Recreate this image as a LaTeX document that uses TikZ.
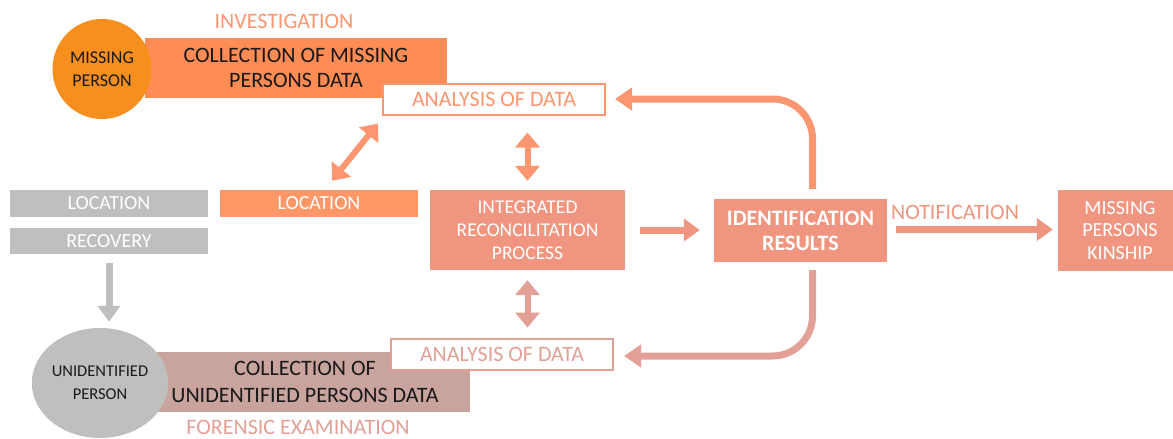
\documentclass[tikz,border=0pt]{standalone}
\usepackage{fontspec}
\setmainfont{Carlito}
\usetikzlibrary{arrows.meta,shapes.geometric}

\definecolor{mporange}{RGB}{247,143,30}
\definecolor{barorange}{RGB}{255,140,85}
\definecolor{lightorange}{RGB}{252,150,112}
\definecolor{salmon}{RGB}{240,150,128}
\definecolor{rosy}{RGB}{226,160,150}
\definecolor{rosybar}{RGB}{201,163,157}
\definecolor{greybox}{RGB}{191,191,191}

\begin{document}
\begin{tikzpicture}[x=1pt,y=-1pt,
    box/.style={rectangle,inner sep=0pt,align=center,text=white,
      font=\fontsize{20}{23}\selectfont},
    bar/.style={rectangle,inner sep=0pt,align=center,text=black!90,
      font=\fontsize{22}{25}\selectfont},
    person/.style={ellipse,inner sep=0pt,align=center,text=black!90,
      font=\fontsize{18}{23}\selectfont},
    framebox/.style={rectangle,draw,line width=2pt,fill=white,inner sep=0pt,
      minimum width=222pt,minimum height=31pt,font=\fontsize{22}{23}\selectfont},
    caption/.style={inner sep=1pt,font=\fontsize{22}{23}\selectfont},
    blockarrow/.style={line width=7pt,-{Triangle[width=22pt,length=16pt]}},
    dblarrow/.style={line width=6pt,{Triangle[width=24pt,length=15pt]}-{Triangle[width=24pt,length=15pt]}},
    looparrow/.style={line width=7pt,rounded corners=40pt,-{Triangle[width=22pt,length=17pt]}}]

    \useasboundingbox (0,0) rectangle (1173,439);
    \clip (0,0) rectangle (1173,439);

    % Missing persons side
    \node[bar,fill=barorange,minimum width=302pt,minimum height=60pt] (mpbar) at (296,68)
        {COLLECTION OF MISSING\\PERSONS DATA};
    \node[person,fill=mporange,minimum width=99pt,minimum height=100pt] (mp) at (102,69)
        {MISSING\\PERSON};
    \node[caption,text=lightorange] (inv) at (284,21) {INVESTIGATION};
    \node[framebox,draw=lightorange,text=lightorange] (anatop) at (494,99) {ANALYSIS OF DATA};

    % Location / recovery
    \node[box,fill=greybox,minimum width=198pt,minimum height=27pt] (locgr) at (109,203.5) {LOCATION};
    \node[box,fill=greybox,minimum width=198pt,minimum height=26pt] (recgr) at (109,241) {RECOVERY};
    \node[box,fill=barorange!90!white,minimum width=198pt,minimum height=27pt] (locor) at (319,203.5) {LOCATION};

    % Reconciliation and results
    \node[box,fill=salmon,minimum width=195pt,minimum height=80pt,
        font=\fontsize{19.5}{23}\selectfont] (irp) at (527.5,230)
        {INTEGRATED\\RECONCILITATION\\PROCESS};
    \node[box,fill=salmon,minimum width=173pt,minimum height=63pt,
        font=\fontsize{22}{25}\selectfont\bfseries] (idres) at (800.5,230.5)
        {IDENTIFICATION\\RESULTS};
    \node[box,fill=salmon,minimum width=124pt,minimum height=81pt,
        font=\fontsize{20}{22.5}\selectfont] (kin) at (1120,230.5)
        {MISSING\\PERSONS\\KINSHIP};
    \node[caption,text=salmon] (notif) at (955,212) {NOTIFICATION};

    % Unidentified persons side
    \node[bar,fill=rosybar,minimum width=330pt,minimum height=60pt,
        font=\fontsize{22}{27}\selectfont] (upbar) at (305,382)
        {COLLECTION OF\\UNIDENTIFIED PERSONS DATA};
    \node[person,fill=greybox,minimum width=100pt,minimum height=110pt,
        font=\fontsize{16.5}{23}\selectfont] (up) at (100,383)
        {UNIDENTIFIED\\PERSON};
    \node[framebox,draw=rosy,text=rosy] (anabot) at (502,354) {ANALYSIS OF DATA};
    \node[caption,text=rosy] (foren) at (298,427) {FORENSIC EXAMINATION};

    % Arrows
    \draw[dblarrow,lightorange] ([xshift=13pt,yshift=9pt]locor.north) -- ([xshift=-4pt,yshift=-8pt]anatop.south west);
    \draw[dblarrow,lightorange,shorten <=17pt,shorten >=9pt] (irp.north |- anatop.south) -- (irp.north);
    \draw[dblarrow,rosy,shorten <=10pt,shorten >=10pt] (irp.south) -- (irp.south |- anabot.north);
    \draw[blockarrow,greybox,shorten <=9pt,shorten >=6pt] (recgr.south) -- (recgr.south |- up.north);
    \draw[blockarrow,salmon,shorten <=15pt,shorten >=14pt] (irp.east) -- (irp.east -| idres.west);
    \draw[blockarrow,salmon,shorten <=9pt,shorten >=5pt] ([yshift=1pt]idres.east) -- ([yshift=1pt]idres.east -| kin.west);
    \draw[looparrow,lightorange] ([xshift=12pt,yshift=10pt]idres.north) |- ([xshift=9pt]anatop.east);
    \draw[looparrow,rosy] ([xshift=12pt,yshift=-8pt]idres.south) |- ([xshift=10pt,yshift=-2pt]anabot.east);

\end{tikzpicture}
\end{document}
